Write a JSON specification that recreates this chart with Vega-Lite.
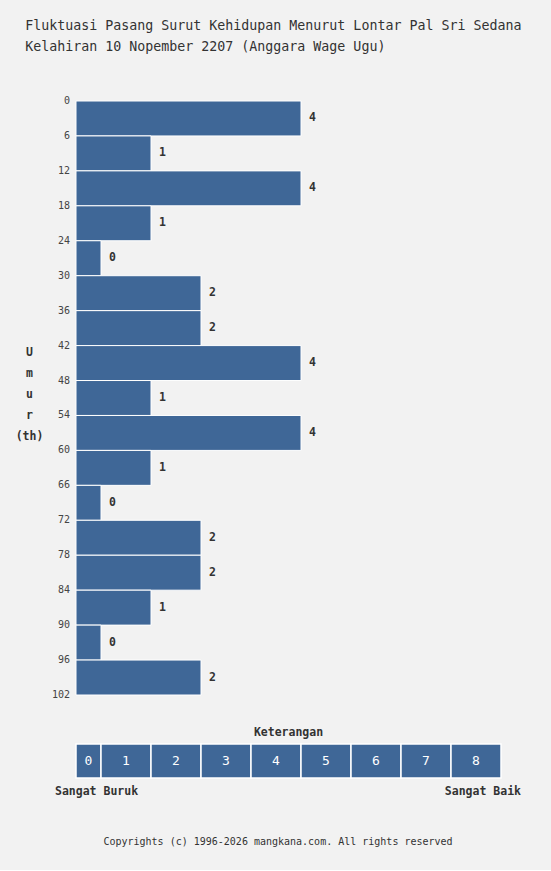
{
  "$schema": "https://vega.github.io/schema/vega-lite/v6.json",
  "background": "#f2f2f2",
  "padding": {"left": 15, "top": 18, "right": 30, "bottom": 23},
  "title": {
    "text": [
      "Fluktuasi Pasang Surut Kehidupan Menurut Lontar Pal Sri Sedana",
      "Kelahiran 10 Nopember 2207 (Anggara Wage Ugu)"
    ],
    "anchor": "start",
    "font": "DejaVu Sans Mono",
    "fontSize": 13.3,
    "fontWeight": "normal",
    "color": "#333333",
    "lineHeight": 21,
    "offset": 43,
    "dx": 10
  },
  "spacing": 26,
  "datasets": {
    "umur": [
      {"start": 0, "end": 6, "nilai": 4},
      {"start": 6, "end": 12, "nilai": 1},
      {"start": 12, "end": 18, "nilai": 4},
      {"start": 18, "end": 24, "nilai": 1},
      {"start": 24, "end": 30, "nilai": 0},
      {"start": 30, "end": 36, "nilai": 2},
      {"start": 36, "end": 42, "nilai": 2},
      {"start": 42, "end": 48, "nilai": 4},
      {"start": 48, "end": 54, "nilai": 1},
      {"start": 54, "end": 60, "nilai": 4},
      {"start": 60, "end": 66, "nilai": 1},
      {"start": 66, "end": 72, "nilai": 0},
      {"start": 72, "end": 78, "nilai": 2},
      {"start": 78, "end": 84, "nilai": 2},
      {"start": 84, "end": 90, "nilai": 1},
      {"start": 90, "end": 96, "nilai": 0},
      {"start": 96, "end": 102, "nilai": 2}
    ],
    "batas": [
      {"umur": 0}, {"umur": 6}, {"umur": 12}, {"umur": 18}, {"umur": 24}, {"umur": 30},
      {"umur": 36}, {"umur": 42}, {"umur": 48}, {"umur": 54}, {"umur": 60}, {"umur": 66},
      {"umur": 72}, {"umur": 78}, {"umur": 84}, {"umur": 90}, {"umur": 96}, {"umur": 102}
    ],
    "skala": [
      {"nilai": 0, "lo": -0.5, "hi": 0},
      {"nilai": 1, "lo": 0, "hi": 1},
      {"nilai": 2, "lo": 1, "hi": 2},
      {"nilai": 3, "lo": 2, "hi": 3},
      {"nilai": 4, "lo": 3, "hi": 4},
      {"nilai": 5, "lo": 4, "hi": 5},
      {"nilai": 6, "lo": 5, "hi": 6},
      {"nilai": 7, "lo": 6, "hi": 7},
      {"nilai": 8, "lo": 7, "hi": 8}
    ]
  },
  "vconcat": [
    {
      "width": 425,
      "height": 594,
      "layer": [
        {
          "data": {"name": "umur"},
          "mark": {"type": "bar", "color": "#3f6797", "stroke": "#ffffff", "strokeWidth": 1},
          "encoding": {
            "x": {
              "field": "nilai",
              "type": "quantitative",
              "scale": {"domain": [-0.5, 8], "nice": false, "zero": false},
              "axis": null
            },
            "x2": {"datum": -0.5},
            "y": {
              "field": "start",
              "type": "quantitative",
              "scale": {"domain": [0, 102], "reverse": true, "nice": false, "zero": false},
              "axis": {
                "values": [0, 102],
                "labels": false,
                "title": ["U", "m", "u", "r", "(th)"],
                "titleX": -47,
                "titleY": 251
              }
            },
            "y2": {"field": "end"}
          }
        },
        {
          "data": {"name": "umur"},
          "transform": [{"calculate": "(datum.start + datum.end) / 2", "as": "tengah"}],
          "mark": {"type": "text", "align": "left", "dx": 8, "fontSize": 11.5, "fontWeight": "bold", "color": "#333333"},
          "encoding": {
            "x": {"field": "nilai", "type": "quantitative"},
            "y": {"field": "tengah", "type": "quantitative"},
            "text": {"field": "nilai", "type": "quantitative"}
          }
        },
        {
          "data": {"name": "batas"},
          "mark": {"type": "text", "align": "right", "baseline": "middle", "dx": -6, "fontSize": 10, "color": "#444444"},
          "encoding": {
            "x": {"datum": -0.5, "type": "quantitative"},
            "y": {"field": "umur", "type": "quantitative"},
            "text": {"field": "umur", "type": "quantitative"}
          }
        }
      ]
    },
    {
      "width": 425,
      "height": 119,
      "layer": [
        {
          "data": {"name": "skala"},
          "mark": {"type": "rect", "color": "#3f6797", "stroke": "#ffffff", "strokeWidth": 1.5},
          "encoding": {
            "x": {
              "field": "lo",
              "type": "quantitative",
              "scale": {"domain": [-0.5, 8], "nice": false, "zero": false},
              "axis": null
            },
            "x2": {"field": "hi"},
            "y": {
              "datum": 0,
              "type": "quantitative",
              "scale": {"domain": [-2, 1.5], "nice": false, "zero": false},
              "axis": null
            },
            "y2": {"datum": 1}
          }
        },
        {
          "data": {"name": "skala"},
          "transform": [{"calculate": "(datum.lo + datum.hi) / 2", "as": "tengah"}],
          "mark": {"type": "text", "fontSize": 13, "color": "#ffffff"},
          "encoding": {
            "x": {"field": "tengah", "type": "quantitative"},
            "y": {"datum": 0.5, "type": "quantitative"},
            "text": {"field": "nilai", "type": "quantitative"}
          }
        },
        {
          "data": {"values": [{}]},
          "mark": {"type": "text", "fontSize": 11.5, "fontWeight": "bold", "color": "#333333"},
          "encoding": {
            "x": {"datum": 3.75, "type": "quantitative"},
            "y": {"datum": 1.33, "type": "quantitative"},
            "text": {"value": "Keterangan"}
          }
        },
        {
          "data": {"values": [{}]},
          "mark": {"type": "text", "align": "left", "dx": -21, "fontSize": 11.5, "fontWeight": "bold", "color": "#333333"},
          "encoding": {
            "x": {"datum": -0.5, "type": "quantitative"},
            "y": {"datum": -0.4, "type": "quantitative"},
            "text": {"value": "Sangat Buruk"}
          }
        },
        {
          "data": {"values": [{}]},
          "mark": {"type": "text", "align": "right", "dx": 20, "fontSize": 11.5, "fontWeight": "bold", "color": "#333333"},
          "encoding": {
            "x": {"datum": 8, "type": "quantitative"},
            "y": {"datum": -0.4, "type": "quantitative"},
            "text": {"value": "Sangat Baik"}
          }
        },
        {
          "data": {"values": [{}]},
          "mark": {"type": "text", "fontSize": 10, "color": "#333333"},
          "encoding": {
            "x": {"datum": 3.54, "type": "quantitative"},
            "y": {"datum": -1.88, "type": "quantitative"},
            "text": {"value": "Copyrights (c) 1996-2026 mangkana.com. All rights reserved"}
          }
        }
      ]
    }
  ],
  "config": {
    "font": "DejaVu Sans Mono",
    "view": {"stroke": null},
    "axisY": {
      "domain": false,
      "ticks": false,
      "grid": false,
      "labelPadding": 6,
      "titleAngle": 0,
      "titleAlign": "center",
      "titleBaseline": "middle",
      "titleFontSize": 11.5,
      "titleFontWeight": "bold",
      "titleColor": "#333333",
      "titleLineHeight": 21
    }
  }
}
